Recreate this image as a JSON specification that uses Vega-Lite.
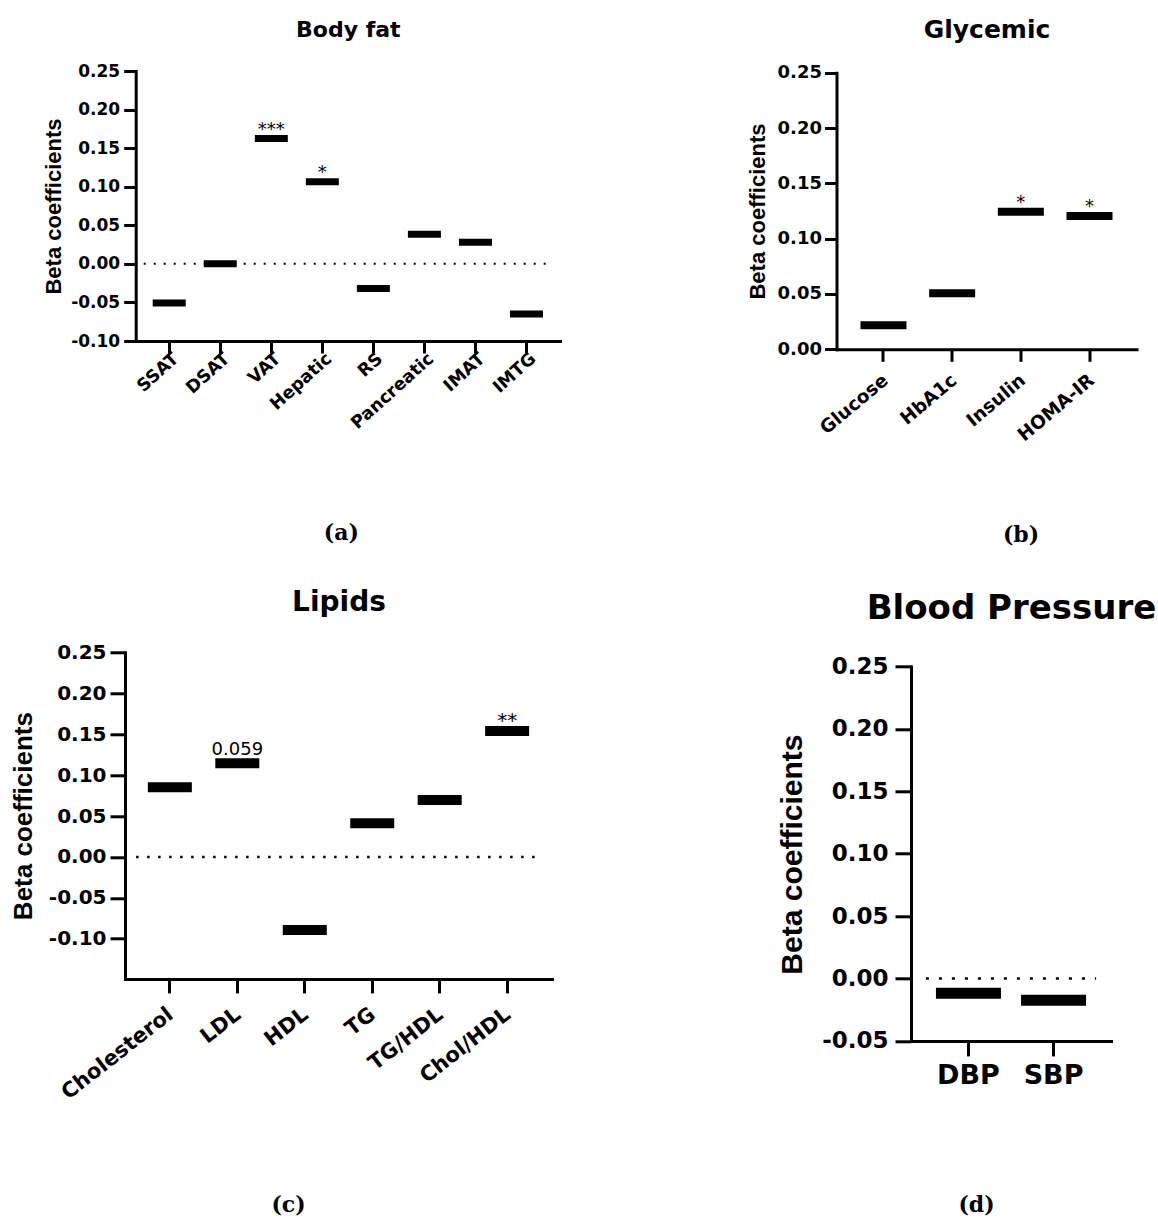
{
  "$schema": "https://vega.github.io/schema/vega-lite/v6.json",
  "padding": {"left": 10, "top": 17, "right": 0, "bottom": 0},
  "background": "white",
  "config": {
    "view": {"stroke": null},
    "locale": {"number": {"decimal": ".", "thousands": ",", "grouping": [3], "currency": ["$", ""], "minus": "-"}},
    "axis": {"domainColor": "black", "tickColor": "black", "labelColor": "black", "titleColor": "black", "domainWidth": 3, "tickWidth": 3, "grid": false, "domainCap": "square", "labelFont": "DejaVu Sans", "labelFontWeight": "bold", "titleFontWeight": "bold", "labelOverlap": false}
  },
  "datasets": {
    "bodyfat": [
      {"measure": "SSAT", "beta": -0.0506, "star": ""},
      {"measure": "DSAT", "beta": 0.0, "star": ""},
      {"measure": "VAT", "beta": 0.1625, "star": "***"},
      {"measure": "Hepatic", "beta": 0.1065, "star": "*"},
      {"measure": "RS", "beta": -0.0319, "star": ""},
      {"measure": "Pancreatic", "beta": 0.0384, "star": ""},
      {"measure": "IMAT", "beta": 0.028, "star": ""},
      {"measure": "IMTG", "beta": -0.0651, "star": ""}
    ],
    "glycemic": [
      {"measure": "Glucose", "beta": 0.0217, "star": ""},
      {"measure": "HbA1c", "beta": 0.0506, "star": ""},
      {"measure": "Insulin", "beta": 0.1243, "star": "*"},
      {"measure": "HOMA-IR", "beta": 0.1205, "star": "*"}
    ],
    "lipids": [
      {"measure": "Cholesterol", "beta": 0.0851, "star": "", "pval": ""},
      {"measure": "LDL", "beta": 0.1144, "star": "", "pval": "0.059"},
      {"measure": "HDL", "beta": -0.0892, "star": "", "pval": ""},
      {"measure": "TG", "beta": 0.0411, "star": "", "pval": ""},
      {"measure": "TG/HDL", "beta": 0.0696, "star": "", "pval": ""},
      {"measure": "Chol/HDL", "beta": 0.1539, "star": "**", "pval": ""}
    ],
    "bp": [
      {"measure": "DBP", "beta": -0.0118},
      {"measure": "SBP", "beta": -0.0175}
    ]
  },
  "spacing": 43.3,
  "vconcat": [
    {
      "spacing": 186.5,
      "hconcat": [
        {
          "width": 435, "height": 270,
          "resolve": {"axis": {"x": "independent"}},
          "encoding": {
            "y": {"field": "beta", "type": "quantitative",
              "scale": {"domain": [-0.1, 0.25], "nice": false, "zero": false},
              "axis": {"title": "Beta coefficients", "offset": -10.7, "titleFont": "Liberation Sans", "titleFontSize": 22, "titleX": -82.4, "titleY": 135, "titleAngle": 270, "titleAlign": "center", "titleBaseline": "middle", "labelOverlap": false, "labelBound": false, "labelFlush": false,
                "values": [-0.1, -0.05, 0, 0.05, 0.1, 0.15, 0.2, 0.25], "format": ".2f", "labelFontSize": 17, "labelPadding": 4, "tickSize": 12}}
          },
          "layer": [
            {
              "data": {"values": [{"start": "SSAT", "end": "IMTG", "beta": 0}]},
              "mark": {"type": "rule", "color": "black", "strokeWidth": 2, "strokeDash": [2, 8]},
              "encoding": {
                "x": {"field": "start", "type": "nominal", "bandPosition": 0, "scale": {"domain": ["SSAT", "DSAT", "VAT", "Hepatic", "RS", "Pancreatic", "IMAT", "IMTG"], "range": [10.7, 435], "paddingInner": 0, "paddingOuter": 0.157}, "axis": null},
                "x2": {"field": "end", "bandPosition": 1}
              }
            },
            {
              "data": {"name": "bodyfat"},
              "mark": {"type": "tick", "color": "black", "opacity": 1, "size": 33, "thickness": 7},
              "encoding": {
                "x": {"field": "measure", "type": "nominal", "sort": null,
                  "scale": {"domain": ["SSAT", "DSAT", "VAT", "Hepatic", "RS", "Pancreatic", "IMAT", "IMTG"], "range": [10.7, 435], "paddingInner": 0, "paddingOuter": 0.157},
                  "axis": {"title": "(a)", "titleFont": "DejaVu Serif", "titleFontSize": 22, "titleX": 215.8, "titleY": 191.7, "titleAlign": "center", "titleBaseline": "middle", "titleAngle": 0, "labelOverlap": false,
                    "labelAngle": -42, "labelAlign": "right", "labelBaseline": "middle", "labelFontSize": 17.5, "labelPadding": 3, "labelOffset": 7, "tickSize": 12}}
              }
            },
            {
              "data": {"name": "bodyfat"},
              "mark": {"type": "text", "font": "DejaVu Sans", "fontSize": 18, "dy": -4, "baseline": "alphabetic", "color": "black"},
              "encoding": {
                "x": {"field": "measure", "type": "nominal", "scale": {"domain": ["SSAT", "DSAT", "VAT", "Hepatic", "RS", "Pancreatic", "IMAT", "IMTG"], "range": [10.7, 435], "paddingInner": 0, "paddingOuter": 0.157},
                  "axis": {"orient": "top", "title": "Body fat", "titleFont": "DejaVu Sans", "titleFontSize": 22, "titleX": 222.8, "titleY": -35, "titleAlign": "center", "titleBaseline": "alphabetic", "titleAngle": 0, "labels": false, "ticks": false, "domain": false}},
                "text": {"field": "star"}
              }
            }
          ]
        },
        {
          "width": 300, "height": 278.3,
          "resolve": {"axis": {"x": "independent"}},
          "data": {"name": "glycemic"},
          "encoding": {
            "y": {"field": "beta", "type": "quantitative",
              "scale": {"domain": [0, 0.25], "range": [278.3, 1.7], "nice": false, "zero": false},
              "axis": {"title": "Beta coefficients", "titleFont": "Liberation Sans", "titleFontSize": 22, "titleX": -79, "titleY": 140, "titleAngle": 270, "titleAlign": "center", "titleBaseline": "middle", "labelOverlap": false,
                "values": [0, 0.05, 0.1, 0.15, 0.2, 0.25], "format": ".2f", "labelFontSize": 18, "labelPadding": 3, "tickSize": 12}}
          },
          "layer": [
            {
              "mark": {"type": "tick", "color": "black", "opacity": 1, "size": 46, "thickness": 8},
              "encoding": {
                "x": {"field": "measure", "type": "nominal", "sort": null,
                  "scale": {"domain": ["Glucose", "HbA1c", "Insulin", "HOMA-IR"], "paddingInner": 0, "paddingOuter": 0.184},
                  "axis": {"title": "(b)", "titleFont": "DejaVu Serif", "titleFontSize": 22, "titleX": 184, "titleY": 184.7, "titleAlign": "center", "titleBaseline": "middle", "titleAngle": 0, "labelOverlap": false,
                    "labelAngle": -40, "labelAlign": "right", "labelBaseline": "middle", "labelFontSize": 18.5, "labelPadding": 16, "labelOffset": 2, "tickSize": 12}}
              }
            },
            {
              "mark": {"type": "text", "font": "DejaVu Sans", "fontSize": 18, "dy": -3.5, "baseline": "alphabetic", "color": "black"},
              "encoding": {
                "x": {"field": "measure", "type": "nominal", "scale": {"domain": ["Glucose", "HbA1c", "Insulin", "HOMA-IR"], "paddingInner": 0, "paddingOuter": 0.184},
                  "axis": {"orient": "top", "title": "Glycemic", "titleFont": "DejaVu Sans", "titleFontSize": 25, "titleX": 150, "titleY": -33.3, "titleAlign": "center", "titleBaseline": "alphabetic", "titleAngle": 0, "labels": false, "ticks": false, "domain": false}},
                "text": {"field": "star"}
              }
            }
          ]
        }
      ]
    },
    {
      "spacing": 225,
      "hconcat": [
        {
          "width": 427, "height": 326.6,
          "resolve": {"axis": {"x": "independent"}},
          "encoding": {
            "y": {"field": "beta", "type": "quantitative",
              "scale": {"domain": [-0.149, 0.25], "nice": false, "zero": false},
              "axis": {"title": "Beta coefficients", "titleFont": "Liberation Sans", "titleFontSize": 26, "titleX": -101.7, "titleY": 163.3, "titleAngle": 270, "titleAlign": "center", "titleBaseline": "middle", "labelOverlap": false,
                "values": [-0.1, -0.05, 0, 0.05, 0.1, 0.15, 0.2, 0.25], "format": ".2f", "labelFontSize": 20, "labelPadding": 4, "tickSize": 15}}
          },
          "layer": [
            {
              "data": {"values": [{"start": "Cholesterol", "end": "Chol/HDL", "beta": 0}]},
              "mark": {"type": "rule", "color": "black", "strokeWidth": 2.5, "strokeDash": [2.5, 8.5]},
              "encoding": {
                "x": {"field": "start", "type": "nominal", "bandPosition": 0, "scale": {"domain": ["Cholesterol", "LDL", "HDL", "TG", "TG/HDL", "Chol/HDL"], "paddingInner": 0, "paddingOuter": 0.165}, "axis": null},
                "x2": {"field": "end", "bandPosition": 1}
              }
            },
            {
              "data": {"name": "lipids"},
              "mark": {"type": "tick", "color": "black", "opacity": 1, "size": 44, "thickness": 10},
              "encoding": {
                "x": {"field": "measure", "type": "nominal", "sort": null,
                  "scale": {"domain": ["Cholesterol", "LDL", "HDL", "TG", "TG/HDL", "Chol/HDL"], "paddingInner": 0, "paddingOuter": 0.165},
                  "axis": {"title": "(c)", "titleFont": "DejaVu Serif", "titleFontSize": 22, "titleX": 163, "titleY": 225.7, "titleAlign": "center", "titleBaseline": "middle", "titleAngle": 0, "labelOverlap": false,
                    "labelAngle": -38, "labelAlign": "right", "labelBaseline": "middle", "labelFontSize": 21, "labelPadding": 19, "labelOffset": 1, "tickSize": 14}}
              }
            },
            {
              "data": {"name": "lipids"},
              "mark": {"type": "text", "font": "DejaVu Sans", "fontSize": 20, "dy": -3.5, "baseline": "alphabetic", "color": "black"},
              "encoding": {
                "x": {"field": "measure", "type": "nominal", "scale": {"domain": ["Cholesterol", "LDL", "HDL", "TG", "TG/HDL", "Chol/HDL"], "paddingInner": 0, "paddingOuter": 0.165},
                  "axis": {"orient": "top", "title": "Lipids", "titleFont": "DejaVu Sans", "titleFontSize": 28, "titleX": 213.5, "titleY": -41.4, "titleAlign": "center", "titleBaseline": "alphabetic", "titleAngle": 0, "labels": false, "ticks": false, "domain": false}},
                "text": {"field": "star"}
              }
            },
            {
              "data": {"name": "lipids"},
              "mark": {"type": "text", "font": "DejaVu Sans", "fontSize": 18, "dy": -8, "baseline": "alphabetic", "color": "black"},
              "encoding": {
                "x": {"field": "measure", "type": "nominal", "scale": {"domain": ["Cholesterol", "LDL", "HDL", "TG", "TG/HDL", "Chol/HDL"], "paddingInner": 0, "paddingOuter": 0.165}, "axis": null},
                "text": {"field": "pval"}
              }
            }
          ]
        },
        {
          "width": 200, "height": 388.6,
          "resolve": {"axis": {"x": "independent"}},
          "encoding": {
            "y": {"field": "beta", "type": "quantitative",
              "scale": {"domain": [-0.05, 0.25], "range": [388.6, 14.3], "nice": false, "zero": false},
              "axis": {"title": "Beta coefficients", "titleFont": "Liberation Sans", "titleFontSize": 30, "titleX": -118.7, "titleY": 201.8, "titleAngle": 270, "titleAlign": "center", "titleBaseline": "middle", "labelOverlap": false,
                "values": [-0.05, 0, 0.05, 0.1, 0.15, 0.2, 0.25], "format": ".2f", "labelFontSize": 23, "labelPadding": 7, "tickSize": 16}}
          },
          "layer": [
            {
              "data": {"values": [{"start": "DBP", "end": "SBP", "beta": 0}]},
              "mark": {"type": "rule", "color": "black", "strokeWidth": 2.5, "strokeDash": [3, 10]},
              "encoding": {
                "x": {"field": "start", "type": "nominal", "bandPosition": 0, "scale": {"domain": ["DBP", "SBP"], "paddingInner": 0, "paddingOuter": 0.175},
                  "axis": {"orient": "top", "title": "Blood Pressure", "titleFont": "DejaVu Sans", "titleFontSize": 34, "titleX": 100, "titleY": -34, "titleAlign": "center", "titleBaseline": "alphabetic", "titleAngle": 0, "labels": false, "ticks": false, "domain": false}},
                "x2": {"field": "end", "bandPosition": 1}
              }
            },
            {
              "data": {"name": "bp"},
              "mark": {"type": "tick", "color": "black", "opacity": 1, "size": 65, "thickness": 11},
              "encoding": {
                "x": {"field": "measure", "type": "nominal", "sort": null,
                  "scale": {"domain": ["DBP", "SBP"], "paddingInner": 0, "paddingOuter": 0.175},
                  "axis": {"title": "(d)", "titleFont": "DejaVu Serif", "titleFontSize": 22, "titleX": 65, "titleY": 163.7, "titleAlign": "center", "titleBaseline": "middle", "titleAngle": 0, "labelOverlap": false,
                    "labelAngle": 0, "labelAlign": "center", "labelBaseline": "top", "labelFontSize": 27, "labelPadding": 7, "tickSize": 15}}
              }
            }
          ]
        }
      ]
    }
  ]
}
